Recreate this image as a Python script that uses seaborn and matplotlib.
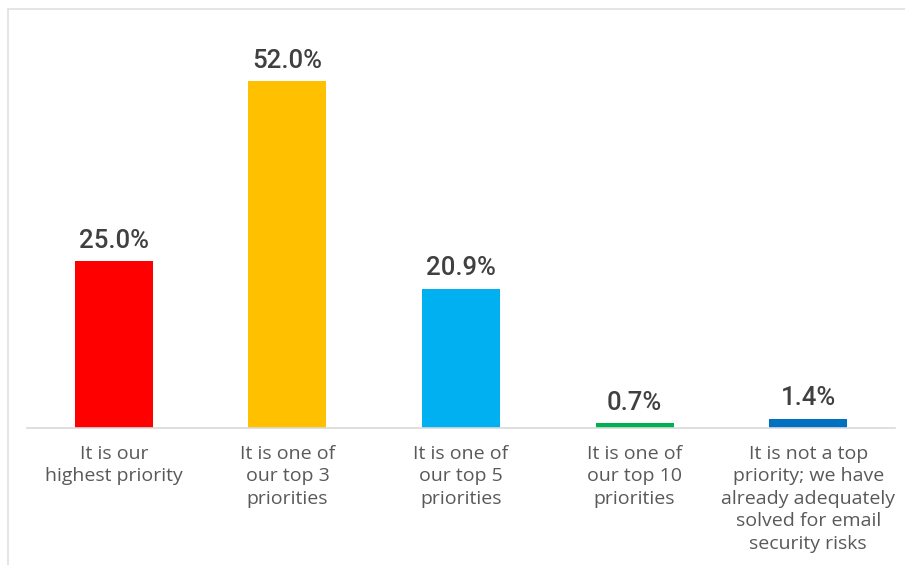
import matplotlib
matplotlib.use("Agg")
import matplotlib.pyplot as plt
import seaborn as sns
import pandas as pd
from matplotlib.patches import Rectangle

categories = [
    "It is our\nhighest priority",
    "It is one of\nour top 3\npriorities",
    "It is one of\nour top 5\npriorities",
    "It is one of\nour top 10\npriorities",
    "It is not a top\npriority; we have\nalready adequately\nsolved for email\nsecurity risks",
]
values = [25.0, 52.0, 20.9, 0.7, 1.4]
colors = ["#FF0000", "#FFC000", "#00B0F0", "#00B050", "#0070C0"]

sns.set_theme(style="white")
plt.rcParams["font.family"] = ["Open Sans", "DejaVu Sans"]

df = pd.DataFrame({"category": categories, "value": values})

fig = plt.figure(figsize=(9.05, 5.65), dpi=100)
fig.patch.set_facecolor("white")
ax = fig.add_axes([27 / 905, (565 - 428) / 565, (895 - 27) / 905, (428 - 20) / 565])

sns.barplot(data=df, x="category", y="value", hue="category",
            palette=colors, legend=False, width=0.45, ax=ax,
            saturation=1, edgecolor="none")

ax.set_xlim(-0.5, 4.5)
ax.set_ylim(0, 61.2)
for c in ax.containers:
    ax.bar_label(c, labels=[f"{v:.1f}%" for v in c.datavalues], padding=6,
                 fontsize=18.5, color="#404040", fontweight="medium",
                 family=["Roboto", "Open Sans", "DejaVu Sans"])

ax.set_xlabel("")
ax.set_ylabel("")
ax.set_yticks([])
ax.tick_params(axis="x", length=0, pad=12, labelsize=14, labelcolor="#595959")
for lab in ax.get_xticklabels():
    lab.set_verticalalignment("top")
    lab.set_linespacing(1.32)
for s in ["top", "right", "left"]:
    ax.spines[s].set_visible(False)
ax.spines["bottom"].set_color("#D9D9D9")
ax.spines["bottom"].set_linewidth(1.2)

frame = Rectangle((8 / 905, -0.1), 1.2, (565 - 9) / 565 + 0.1,
                  transform=fig.transFigure, fill=False,
                  edgecolor="#E0E0E0", linewidth=1.2, zorder=0)
fig.patches.append(frame)

fig.savefig("out.png", dpi=100, facecolor="white")
